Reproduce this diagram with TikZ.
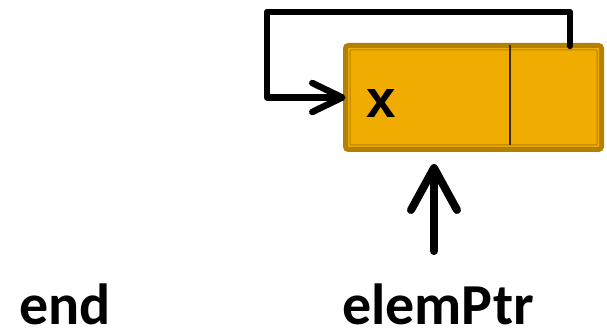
\documentclass[tikz,border=0pt]{standalone}
\usepackage{fontspec}
\setmainfont{Carlito}
\newfontfamily\xfont{Liberation Sans}
\usetikzlibrary{arrows.meta}
\definecolor{boxfill}{RGB}{240,173,0}
\definecolor{boxedge}{RGB}{180,128,0}
\definecolor{divline}{RGB}{60,40,0}
\tikzset{
  cellbox/.style={draw=boxedge, line width=5pt, fill=boxfill, rounded corners=3pt,
    minimum width=256pt, minimum height=104pt, inner sep=0pt, outer sep=0pt},
  label/.style={font=\fontsize{58}{58}\selectfont\bfseries, anchor=base, inner sep=0pt, text depth=0pt},
  loopptr/.style={line width=6.5pt, line cap=round, line join=round,
    -{Straight Barb[length=30pt,width=29pt,round]}},
  upptr/.style={line width=8pt, line cap=round, line join=round,
    -{Straight Barb[length=42pt,width=46pt,round]}}
}
\begin{document}
\begin{tikzpicture}[x=1pt,y=-1pt]
\useasboundingbox (0,0) rectangle (607,331);
\node[cellbox] (box) at (473.5,97.5) {};
\draw[boxedge, line width=1pt, rounded corners=1pt] (350,50) rectangle (597,145);
\draw[divline, line width=1.2pt] (510,45) -- (510,145);
\coordinate (cellR) at (570,46);
\node[font=\xfont\fontsize{53}{53}\selectfont\bfseries, anchor=base west, inner sep=0pt, text depth=0pt] (xval) at (366,118) {x};
\draw[loopptr] (cellR) |- (267,12) |- (box.west);
\node[label, anchor=base west] (endlbl) at (19,324) {end};
\node[label] (ptrlbl) at (438,324) {elemPtr};
\coordinate (ptrtail) at (434,251);
\coordinate (ptrhead) at (434,164);
\draw[upptr] (ptrtail) -- (ptrhead);
\end{tikzpicture}
\end{document}
